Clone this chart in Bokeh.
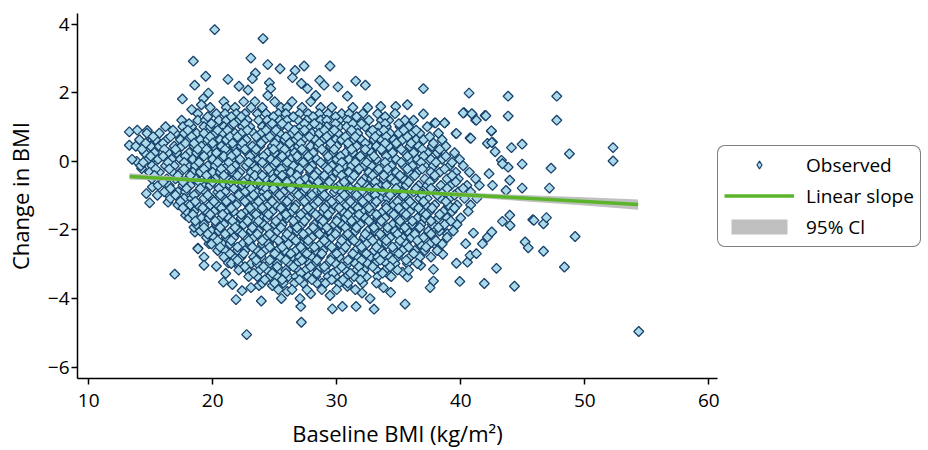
import numpy as np
from bokeh.plotting import figure
from bokeh.models import Legend, LegendItem, Range1d, FixedTicker, ColumnDataSource
from bokeh.embed import file_html
from bokeh.resources import INLINE

# ---- scattered individual observations (baseline BMI, change in BMI) ----
outlier_base = [20.16, 24.06, 18.44, 23.08, 24.44, 25.43, 26.64, 27.37, 19.44, 21.23, 23.44, 23.2,
                18.55, 22.12, 22.85, 24.57, 24.68, 26.43, 27.15, 27.64, 17.56, 19.65, 19.25, 19.09,
                18.31, 24.44, 13.28, 13.28, 14.73, 15.13, 29.46, 28.63, 28.98, 30.1, 31.53, 32.31,
                30.86, 36.99, 40.67, 28.31, 33.55, 34.76, 35.7, 36.99, 37.9, 38.71, 40.27, 40.93,
                41.2, 41.96, 42.47, 39.62, 40.75, 42.15, 42.56, 43.82, 47.74, 43.82, 47.74, 40.2,
                40.89, 41.26, 42.02, 37.96, 38.69, 39.65, 42.47, 40.81, 42.5, 44.09, 44.95, 42.77,
                48.76, 52.28, 52.28, 44.95, 47.28, 44.95, 47.15, 43.28, 43.82, 43.95, 43.65, 42.28,
                42.56, 45.81, 46.67, 46.91, 49.22, 45.19, 45.44, 46.67, 48.36, 44.33, 42.88, 39.92,
                37.8, 37.53, 37.8, 39.65, 40.54, 40.75, 41.26, 38.55, 40.4, 41.02, 41.75, 42.15,
                42.5, 43.36, 43.98, 43.95, 54.35, 38.92, 37.85, 36.77, 16.94, 22.74, 27.15, 21.88,
                23.92, 25.54, 27.1, 22.37, 20.86, 21.59, 23.09, 23.73, 18.81, 19.3, 19.3, 20.3,
                19.7, 18.57, 21.26, 22.12, 21.05, 29.65, 30.46, 31.56, 33.01, 32.04, 32.69, 34.35,
                35.51, 33.77, 34.25, 35.7, 27.04, 29.46, 27.9, 26.02, 24.81, 28.81, 30.86, 33.28,
                35.3, 13.87, 14.27, 14.65, 14.92, 15.54, 15.13, 16.48, 16.4, 18.81, 17.82, 18.49,
                15.0, 13.92, 43.36, 45.9, 41.9]
outlier_change = [3.84, 3.58, 2.92, 3.01, 2.82, 2.70, 2.65, 2.78, 2.48, 2.39, 2.57, 2.41,
                  2.22, 2.19, 2.08, 2.29, 2.12, 2.44, 2.27, 2.12, 1.82, 1.99, 1.83, 1.65,
                  1.51, 1.92, 0.86, 0.47, 0.90, 0.62, 2.78, 2.36, 2.22, 2.17, 2.34, 2.22,
                  1.90, 2.12, 1.99, 1.92, 1.60, 1.60, 1.65, 1.38, 1.12, 1.12, 1.42, 1.37,
                  1.20, 1.34, 0.88, 0.81, 0.68, 0.52, 0.56, 1.90, 1.90, 1.32, 1.20, 1.41,
                  1.39, 1.20, 1.33, 1.12, 1.12, 0.81, 0.89, 0.67, 0.55, 0.40, 0.50, 0.28,
                  0.22, 0.40, 0.01, -0.08, -0.20, -0.78, -0.78, 0.03, -0.17, -0.55, -0.85, -0.36,
                  -0.70, -1.70, -1.82, -1.64, -2.19, -2.35, -2.52, -2.62, -3.08, -3.64, -3.12, -3.50,
                  -3.49, -3.68, -3.15, -2.97, -2.94, -2.74, -2.69, -2.71, -2.40, -2.09, -2.40, -2.21,
                  -2.06, -1.75, -1.87, -1.57, -4.96, -2.11, -2.40, -3.03, -3.29, -5.05, -4.69, -4.03,
                  -4.07, -4.00, -4.23, -3.77, -3.52, -3.59, -3.68, -3.62, -2.53, -2.79, -3.03, -3.06,
                  -2.40, -2.06, -2.96, -3.06, -3.27, -4.30, -4.23, -4.23, -4.31, -3.84, -4.00, -3.82,
                  -4.16, -3.68, -3.32, -3.37, -4.00, -3.91, -3.86, -3.79, -3.62, -3.55, -3.64, -3.20,
                  -3.23, 0.00, -0.21, -0.94, -1.21, -0.99, -0.75, -0.99, -1.19, -2.55, -1.57, -1.92,
                  0.03, 0.91, -0.07, -1.72, -3.56]

# ---- dense core of observations, read row by row (change in BMI level, baseline BMIs) ----
core_change_levels = [1.74, 1.57, 1.39, 1.20, 1.01, 0.82, 0.63, 0.44, 0.25, 0.06, -0.13, -0.32,
                      -0.51, -0.70, -0.89, -1.08, -1.27, -1.46, -1.65, -1.84, -2.03, -2.22, -2.41,
                      -2.60, -2.79, -2.98, -3.17, -3.36, -3.55, -3.74]
core_base_rows = [
    [20.9, 22.5, 23.4, 25.0, 26.4, 27.9],
    [19.8, 21.1, 21.8, 23.1, 24.0, 25.5, 26.0, 27.2, 28.7, 29.6, 31.3, 32.5],
    [18.8, 20.3, 21.0, 21.9, 22.6, 23.6, 24.3, 25.3, 25.9, 27.0, 27.7, 28.6, 29.3, 30.4, 31.0, 32.1, 33.3, 34.7],
    [17.5, 18.8, 19.4, 20.5, 21.1, 22.1, 22.8, 23.7, 24.4, 25.4, 26.0, 26.9, 27.6, 28.7, 29.2, 30.2, 30.9, 31.9, 32.6, 33.6, 34.2, 35.5, 36.2],
    [16.2, 17.6, 18.3, 19.3, 19.8, 20.9, 21.4, 22.4, 23.0, 24.0, 24.5, 25.5, 26.1, 27.1, 27.7, 28.6, 29.2, 30.2, 30.8, 31.7, 32.3, 33.4, 34.0, 35.1, 35.8, 37.3],
    [14.7, 15.7, 17.0, 17.7, 18.7, 19.3, 20.2, 20.8, 21.8, 22.3, 23.3, 23.9, 24.9, 25.4, 26.4, 27.0, 28.0, 28.6, 29.5, 30.1, 31.1, 31.7, 32.7, 33.3, 34.3, 35.0, 36.1, 36.7, 38.2],
    [14.1, 15.4, 16.3, 17.4, 18.0, 19.0, 19.6, 20.6, 21.1, 22.1, 22.7, 23.7, 24.2, 25.2, 25.8, 26.7, 27.3, 28.3, 28.9, 29.9, 30.4, 31.4, 32.0, 33.0, 33.6, 34.6, 35.3, 36.4, 37.0, 38.5],
    [13.8, 15.0, 15.7, 16.9, 17.5, 18.5, 19.1, 20.1, 20.7, 21.7, 22.3, 23.2, 23.8, 24.8, 25.4, 26.4, 26.9, 27.9, 28.5, 29.5, 30.0, 31.0, 31.6, 32.6, 33.2, 34.2, 34.9, 35.9, 36.6, 37.7, 38.8],
    [14.5, 15.3, 16.4, 17.1, 18.1, 18.7, 19.7, 20.3, 21.3, 21.9, 22.8, 23.4, 24.4, 25.0, 26.0, 26.6, 27.5, 28.1, 29.1, 29.7, 30.7, 31.3, 32.2, 32.8, 33.8, 34.5, 35.5, 36.2, 37.3, 38.1, 39.5],
    [13.5, 14.8, 15.6, 16.7, 17.4, 18.4, 19.0, 20.0, 20.6, 21.6, 22.2, 23.1, 23.7, 24.7, 25.3, 26.3, 26.9, 27.9, 28.4, 29.4, 30.0, 31.0, 31.6, 32.6, 33.2, 34.2, 34.8, 35.9, 36.5, 37.6, 38.5, 39.9],
    [14.2, 15.1, 16.2, 16.9, 18.0, 18.6, 19.6, 20.2, 21.2, 21.8, 22.7, 23.3, 24.3, 24.9, 25.9, 26.5, 27.5, 28.0, 29.0, 29.6, 30.6, 31.2, 32.2, 32.8, 33.8, 34.4, 35.4, 36.1, 37.1, 37.8, 39.1, 40.2],
    [14.9, 15.7, 16.8, 17.4, 18.4, 19.0, 20.0, 20.6, 21.6, 22.2, 23.1, 23.7, 24.7, 25.3, 26.3, 26.9, 27.9, 28.4, 29.4, 30.0, 31.0, 31.6, 32.6, 33.2, 34.2, 34.8, 35.8, 36.5, 37.6, 38.3, 39.6, 40.7],
    [15.1, 16.3, 17.0, 18.0, 18.6, 19.6, 20.2, 21.2, 21.8, 22.8, 23.3, 24.3, 24.9, 25.9, 26.5, 27.5, 28.1, 29.0, 29.6, 30.6, 31.2, 32.2, 32.8, 33.8, 34.4, 35.4, 36.0, 37.1, 37.8, 38.9, 39.8, 41.2],
    [15.6, 16.5, 17.6, 18.2, 19.2, 19.8, 20.8, 21.4, 22.4, 22.9, 23.9, 24.5, 25.5, 26.1, 27.1, 27.7, 28.6, 29.2, 30.2, 30.8, 31.8, 32.4, 33.4, 34.0, 35.0, 35.6, 36.6, 37.3, 38.4, 39.2, 40.5, 41.5],
    [16.1, 17.2, 17.8, 18.8, 19.4, 20.4, 21.0, 22.0, 22.6, 23.5, 24.1, 25.1, 25.7, 26.7, 27.3, 28.3, 28.8, 29.8, 30.4, 31.4, 32.0, 33.0, 33.6, 34.6, 35.2, 36.2, 36.8, 37.9, 38.6, 39.8, 40.8],
    [16.6, 17.7, 18.3, 19.3, 19.9, 20.9, 21.5, 22.4, 23.0, 24.0, 24.6, 25.6, 26.2, 27.2, 27.7, 28.7, 29.3, 30.3, 30.9, 31.9, 32.5, 33.5, 34.1, 35.1, 35.7, 36.7, 37.3, 38.4, 39.1, 40.3, 41.3],
    [17.2, 18.2, 18.8, 19.8, 20.4, 21.4, 21.9, 22.9, 23.5, 24.5, 25.1, 26.1, 26.7, 27.6, 28.2, 29.2, 29.8, 30.8, 31.4, 32.4, 33.0, 34.0, 34.6, 35.6, 36.2, 37.2, 37.9, 39.0, 39.7, 40.8],
    [17.9, 18.5, 19.5, 20.1, 21.1, 21.7, 22.7, 23.2, 24.2, 24.8, 25.8, 26.4, 27.4, 28.0, 28.9, 29.5, 30.5, 31.1, 32.1, 32.7, 33.7, 34.3, 35.3, 35.9, 36.9, 37.5, 38.6, 39.3, 40.6],
    [18.1, 19.1, 19.7, 20.7, 21.3, 22.3, 22.9, 23.9, 24.4, 25.4, 26.0, 27.0, 27.6, 28.6, 29.2, 30.1, 30.7, 31.7, 32.3, 33.3, 33.9, 34.9, 35.5, 36.5, 37.1, 38.2, 38.9, 40.0],
    [18.7, 19.3, 20.3, 20.9, 21.9, 22.5, 23.5, 24.1, 25.0, 25.6, 26.6, 27.2, 28.2, 28.8, 29.8, 30.4, 31.3, 31.9, 32.9, 33.5, 34.5, 35.1, 36.1, 36.8, 37.7, 38.7, 39.7],
    [19.0, 19.9, 20.5, 21.5, 22.1, 23.1, 23.7, 24.7, 25.2, 26.2, 26.8, 27.8, 28.4, 29.4, 30.0, 31.0, 31.5, 32.5, 33.1, 34.1, 34.7, 35.7, 36.4, 37.4, 38.3, 39.4],
    [19.5, 20.1, 21.1, 21.7, 22.7, 23.3, 24.3, 24.9, 25.9, 26.4, 27.4, 28.0, 29.0, 29.6, 30.6, 31.2, 32.2, 32.7, 33.7, 34.3, 35.3, 36.0, 37.0, 37.8, 38.9],
    [19.9, 20.8, 21.4, 22.4, 23.0, 24.0, 24.5, 25.5, 26.1, 27.1, 27.7, 28.7, 29.3, 30.3, 30.8, 31.8, 32.4, 33.4, 34.0, 35.0, 35.6, 36.7, 37.5, 38.5],
    [20.4, 21.0, 22.0, 22.6, 23.6, 24.2, 25.2, 25.8, 26.7, 27.3, 28.3, 28.9, 29.9, 30.5, 31.5, 32.1, 33.0, 33.6, 34.6, 35.3, 36.3, 37.1, 38.1],
    [20.9, 21.7, 22.3, 23.3, 23.9, 24.9, 25.4, 26.4, 27.0, 28.0, 28.6, 29.6, 30.2, 31.2, 31.7, 32.7, 33.3, 34.3, 34.9, 35.9, 36.7, 37.6],
    [21.5, 22.1, 23.1, 23.6, 24.6, 25.2, 26.2, 26.8, 27.8, 28.3, 29.3, 29.9, 30.9, 31.5, 32.5, 33.1, 34.0, 34.7, 35.7, 36.5],
    [22.1, 22.8, 23.8, 24.4, 25.4, 25.9, 26.9, 27.5, 28.5, 29.1, 30.1, 30.7, 31.6, 32.2, 33.2, 33.9, 34.9, 35.8],
    [22.9, 23.6, 24.6, 25.2, 26.1, 26.7, 27.7, 28.3, 29.3, 29.9, 30.8, 31.4, 32.4, 33.3, 34.4],
    [24.0, 25.0, 25.7, 26.6, 27.3, 28.4, 29.1, 30.2, 30.9, 32.1, 33.2],
    [25.3, 26.4, 27.6, 28.8, 30.0, 31.5],
]

# ---- second, interleaved pass over the dense core ----
core2_change_levels = [1.30, 1.10, 0.91, 0.72, 0.53, 0.35, 0.15, -0.03, -0.22, -0.41, -0.60, -0.79,
                       -0.98, -1.17, -1.36, -1.55, -1.74, -1.93, -2.12, -2.31, -2.50, -2.69, -2.88,
                       -3.07, -3.26, -3.45]
core2_base_rows = [
    [19.6, 21.5, 22.3, 24.9, 26.5, 28.1, 29.9, 31.6, 33.9],
    [18.1, 19.9, 21.7, 22.6, 24.8, 25.6, 27.4, 28.2, 29.9, 31.3, 32.0, 33.9, 35.0],
    [16.8, 18.0, 20.4, 21.2, 22.8, 24.3, 25.1, 26.6, 27.4, 29.0, 29.8, 31.2, 32.9, 33.8, 35.4, 36.4],
    [15.2, 16.6, 18.3, 19.8, 21.4, 22.0, 23.5, 24.6, 25.9, 26.9, 27.8, 29.2, 30.7, 31.5, 33.1, 34.0, 35.7, 37.5],
    [14.6, 16.0, 17.8, 18.5, 20.0, 21.6, 22.4, 23.9, 25.0, 26.2, 27.1, 28.6, 29.5, 30.9, 32.3, 33.9, 34.8, 36.0, 37.8],
    [14.3, 16.1, 17.0, 18.8, 19.5, 21.0, 22.6, 23.5, 24.9, 25.8, 27.2, 28.8, 29.8, 31.2, 32.3, 33.6, 35.2, 36.9, 38.3],
    [15.0, 16.0, 17.8, 19.3, 20.9, 21.5, 23.0, 24.1, 25.6, 26.8, 27.7, 29.3, 30.3, 31.9, 33.0, 34.0, 35.7, 37.0, 38.8],
    [14.4, 16.4, 17.7, 18.9, 20.4, 21.3, 22.9, 24.0, 25.1, 26.0, 27.3, 28.7, 30.4, 31.5, 32.4, 33.9, 35.2, 36.8, 38.0, 39.3],
    [15.4, 16.5, 17.7, 19.3, 20.7, 21.5, 23.5, 24.5, 25.5, 27.0, 27.8, 29.3, 30.2, 31.8, 33.4, 34.1, 35.7, 36.9, 38.7],
    [15.3, 17.2, 18.2, 19.5, 20.9, 22.0, 23.4, 24.0, 25.6, 26.8, 28.2, 29.0, 30.4, 31.4, 32.9, 33.8, 35.1, 36.3, 37.9, 39.3],
    [16.0, 17.6, 18.9, 20.0, 21.5, 22.5, 23.7, 25.2, 26.0, 27.0, 28.5, 29.4, 30.6, 32.0, 33.1, 34.7, 35.8, 37.5, 39.6],
    [16.6, 17.9, 19.0, 20.5, 21.7, 23.1, 24.3, 24.9, 26.3, 27.5, 28.8, 29.9, 31.1, 32.6, 33.2, 34.8, 36.4, 37.6, 38.9, 40.2],
    [17.0, 18.5, 19.6, 20.6, 22.1, 23.3, 24.4, 25.4, 26.9, 28.0, 29.0, 30.6, 31.6, 33.1, 34.3, 35.4, 36.9, 38.1, 39.5],
    [17.4, 18.6, 20.1, 21.1, 22.6, 23.7, 24.8, 26.0, 27.4, 28.5, 29.6, 31.1, 32.1, 33.2, 34.9, 35.9, 37.0, 38.8],
    [17.6, 19.2, 20.7, 21.5, 23.0, 24.0, 25.5, 26.6, 27.7, 29.0, 30.2, 31.7, 32.6, 34.0, 35.0, 36.6, 37.7, 39.5],
    [18.4, 19.8, 20.8, 22.3, 23.5, 24.5, 25.9, 27.1, 28.3, 29.3, 30.9, 31.8, 33.2, 34.6, 35.6, 37.2, 38.3],
    [18.6, 20.2, 21.6, 22.8, 23.7, 25.1, 26.5, 27.4, 28.9, 30.0, 31.2, 32.6, 33.6, 35.1, 36.1, 37.6, 39.2],
    [19.3, 20.6, 21.8, 23.2, 24.4, 25.5, 26.8, 28.1, 29.2, 30.7, 31.6, 33.0, 34.1, 35.5, 36.7, 38.2],
    [19.6, 21.0, 22.4, 23.6, 24.6, 26.0, 27.3, 28.6, 29.9, 30.9, 32.3, 33.5, 34.9, 36.3, 37.6],
    [20.4, 21.5, 22.9, 24.0, 25.3, 26.7, 27.7, 29.0, 30.4, 31.4, 32.9, 34.0, 35.1, 36.5, 38.0],
    [20.6, 22.0, 23.2, 24.6, 25.6, 27.1, 28.2, 29.6, 30.7, 32.0, 33.2, 34.5, 35.8, 37.2],
    [21.4, 22.5, 23.9, 25.0, 26.3, 27.6, 28.8, 30.0, 31.3, 32.4, 33.8, 35.0, 36.2],
    [22.0, 23.5, 24.6, 25.9, 27.2, 28.4, 29.5, 30.9, 32.0, 33.5, 34.5, 35.6],
    [22.6, 24.1, 25.2, 26.5, 27.9, 29.0, 30.4, 31.8, 32.9, 34.3],
    [23.3, 24.8, 25.9, 27.1, 28.4, 29.7, 31.1, 32.0, 33.7],
    [24.2, 25.6, 27.0, 28.0, 29.6, 30.5, 31.9],
]

# ---- fitted linear slope and its 95% CI ----
fit_base = [13.3, 20, 25, 30, 35, 40, 45, 50, 54.3]
fit_change = [-0.44, -0.57, -0.67, -0.77, -0.87, -0.97, -1.07, -1.17, -1.26]
ci_lower = [-0.53, -0.61, -0.70, -0.79, -0.90, -1.03, -1.16, -1.29, -1.41]
ci_upper = [-0.35, -0.53, -0.64, -0.75, -0.84, -0.91, -0.98, -1.05, -1.11]

x_ticks = [10, 20, 30, 40, 50, 60]
y_ticks = [-6, -4, -2, 0, 2, 4]

# flatten observations
obs_x = list(outlier_base)
obs_y = list(outlier_change)
for levels, rows in ((core_change_levels, core_base_rows), (core2_change_levels, core2_base_rows)):
    for lvl, row in zip(levels, rows):
        obs_x.extend(row)
        obs_y.extend([lvl] * len(row))

FONT = "Open Sans"
FILL = "#abd9e9"
EDGE = "#17426b"

p = figure(frame_width=640, height=450, output_backend="svg", toolbar_location=None,
           x_range=Range1d(9.1, 60.7), y_range=Range1d(-6.33, 4.31),
           min_border_left=77, min_border_right=0, min_border_top=13, min_border_bottom=72)
p.outline_line_color = None
p.xgrid.visible = False
p.ygrid.visible = False
p.background_fill_color = "white"

src = ColumnDataSource(dict(x=obs_x, y=obs_y))
r_obs = p.scatter("x", "y", source=src, marker="square", angle=np.pi / 4, size=7,
                  fill_color=FILL, line_color=EDGE, line_width=1.3)
r_ci = p.varea(x=fit_base, y1=ci_lower, y2=ci_upper, fill_color="#c0c0c0", fill_alpha=1.0)
r_fit = p.line(fit_base, fit_change, line_color="#5ab52a", line_width=3.5)
# legend key for the observations (a single NaN point, nothing drawn in the plot)
r_key = p.scatter(x=[np.nan], y=[np.nan], marker="diamond", size=11,
                  fill_color=FILL, line_color=EDGE, line_width=1.2)

for ax in (p.xaxis[0], p.yaxis[0]):
    ax.axis_line_color = "black"
    ax.axis_line_width = 1.5
    ax.major_tick_line_color = "black"
    ax.major_tick_line_width = 1.5
    ax.major_tick_out = 6
    ax.major_tick_in = 0
    ax.minor_tick_line_color = None
    ax.major_label_text_font = FONT
    ax.major_label_text_font_size = "19px"
    ax.major_label_text_color = "black"
    ax.major_label_text_line_height = 1.0
    ax.axis_label_text_font = FONT
    ax.axis_label_text_font_size = "22px"
    ax.axis_label_text_font_style = "normal"
    ax.axis_label_text_color = "black"
    ax.axis_label_text_line_height = 1.0

p.xaxis.ticker = FixedTicker(ticks=x_ticks)
p.yaxis.ticker = FixedTicker(ticks=y_ticks)
p.yaxis.major_label_overrides = {t: (str(t) if t >= 0 else "\u2212" + str(-t)) for t in y_ticks}
p.xaxis.axis_label = "Baseline BMI (kg/m\u00b2)"
p.yaxis.axis_label = "Change in BMI"
p.xaxis.major_label_standoff = 9
p.yaxis.major_label_standoff = 2
p.xaxis.axis_label_standoff = 8
p.yaxis.axis_label_standoff = 10

legend = Legend(items=[LegendItem(label="Observed", renderers=[r_key]),
                       LegendItem(label="Linear slope", renderers=[r_fit]),
                       LegendItem(label="95% Cl", renderers=[r_ci])],
                location="left")
legend.border_line_color = "black"
legend.border_line_width = 1
legend.background_fill_color = "white"
legend.background_fill_alpha = 1.0
legend.label_text_font = FONT
legend.label_text_font_size = "19px"
legend.label_text_color = "black"
legend.glyph_width = 70
legend.glyph_height = 19
legend.label_height = 19
legend.spacing = 5
legend.padding = 6
legend.margin = 0
legend.label_standoff = 12
try:
    legend.border_radius = 8
except Exception:
    pass
p.add_layout(legend, "right")

open("out.html", "w").write(file_html(p, INLINE))
